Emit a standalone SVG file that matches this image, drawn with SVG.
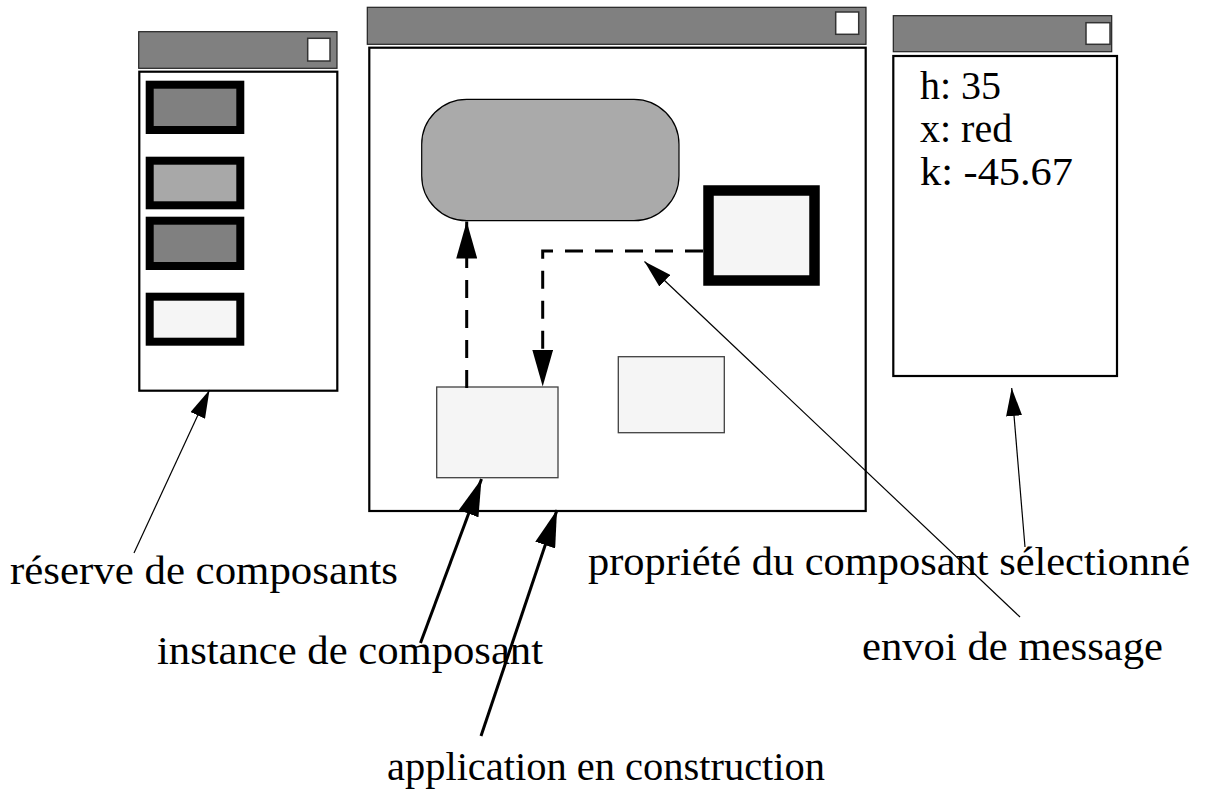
<svg xmlns="http://www.w3.org/2000/svg" width="1205" height="796" viewBox="0 0 1205 796">
<style>
.title{fill:#808080;stroke:#222;stroke-width:1.2}
.btn{fill:#fff;stroke:#333;stroke-width:1.5}
.body{fill:#fff;stroke:#000;stroke-width:2.2}
.pal{stroke:#000;stroke-width:8}
.comp{fill:#f5f5f5;stroke:#404040;stroke-width:1.3}
.lbl{font-family:"Liberation Serif","Times New Roman",serif;font-size:40px;fill:#000}
.thin{fill:none;stroke:#000;stroke-width:1.2}
.thick{fill:none;stroke:#000;stroke-width:3}
.dash{fill:none;stroke:#000;stroke-width:3;stroke-dasharray:18 12}
</style>
<defs>
<marker id="ahThin" viewBox="0 0 28 16" refX="28" refY="8" markerWidth="28" markerHeight="16" markerUnits="userSpaceOnUse" orient="auto"><path d="M0,0 L28,8 L0,16 z" fill="#000"/></marker>
<marker id="ahThick" viewBox="0 0 37 21" refX="37" refY="10.5" markerWidth="37" markerHeight="21" markerUnits="userSpaceOnUse" orient="auto"><path d="M0,0 L37,10.5 L0,21 z" fill="#000"/></marker>
</defs>
<rect width="1205" height="796" fill="#fff"/>

<g id="palette-window">
<rect class="title" x="138.7" y="31.7" width="198.3" height="36.6"/>
<rect class="btn" x="307.7" y="38.3" width="22.3" height="22.7"/>
<rect class="body" x="139.3" y="71.7" width="198" height="319"/>
<rect class="pal" x="149.7" y="84.7" width="90.6" height="45.3" fill="#808080"/>
<rect class="pal" x="149.7" y="160.7" width="90.6" height="44.6" fill="#a8a8a8"/>
<rect class="pal" x="149.7" y="220.7" width="90.6" height="45.3" fill="#808080"/>
<rect class="pal" x="149.7" y="296.7" width="90.6" height="45" fill="#f5f5f5"/>
</g>

<g id="app-window">
<rect class="title" x="367.3" y="7.3" width="498.7" height="37"/>
<rect class="btn" x="835.7" y="12" width="23" height="22.3"/>
<rect class="body" x="369.3" y="47.7" width="496.4" height="463.3"/>
</g>

<g id="rounded-component">
<rect x="421.7" y="99.3" width="257.3" height="121.4" rx="45" ry="45" fill="#aaaaaa" stroke="#000" stroke-width="1.2"/>
</g>
<g id="selected-component">
<rect x="708.5" y="190.5" width="106" height="90" fill="#f5f5f5" stroke="#000" stroke-width="10.5"/>
</g>
<g id="instance-component">
<rect class="comp" x="436.7" y="387" width="121.3" height="90.7"/>
</g>
<g id="other-component">
<rect class="comp" x="618.3" y="356.7" width="106" height="76"/>
</g>

<g id="props-window">
<rect class="title" x="893.3" y="15.7" width="218.4" height="36"/>
<rect class="btn" x="1086" y="22.7" width="24" height="21.6"/>
<rect class="body" x="893.3" y="56" width="223.7" height="320"/>
<text class="lbl" x="920" y="99">h: 35</text>
<text class="lbl" x="920" y="142">x: red</text>
<text class="lbl" x="920" y="185" textLength="153" lengthAdjust="spacingAndGlyphs">k: -45.67</text>
</g>

<g id="connectors">
<path class="dash" d="M466.7,388 L466.7,221.5" marker-end="url(#ahThick)"/>
<path class="dash" d="M703,251 L542.7,251 L542.7,386.5" marker-end="url(#ahThick)"/>
<path class="thin" d="M134,553 L209.5,390" marker-end="url(#ahThin)"/>
<path class="thin" d="M1020,617 L644.5,261.5" marker-end="url(#ahThin)"/>
<path class="thin" d="M1025,547 L1011.7,388" marker-end="url(#ahThin)"/>
<path class="thick" d="M420.5,643 L481.5,479" marker-end="url(#ahThick)"/>
<path class="thick" d="M481,736 L557,510" marker-end="url(#ahThick)"/>
</g>

<g id="labels">
<text class="lbl" x="10" y="584" textLength="388" lengthAdjust="spacingAndGlyphs">réserve de composants</text>
<text class="lbl" x="588" y="575" textLength="602" lengthAdjust="spacingAndGlyphs">propriété du composant sélectionné</text>
<text class="lbl" x="157" y="664" textLength="386" lengthAdjust="spacingAndGlyphs">instance de composant</text>
<text class="lbl" x="862" y="660" textLength="301" lengthAdjust="spacingAndGlyphs">envoi de message</text>
<text class="lbl" x="387" y="780" textLength="438" lengthAdjust="spacingAndGlyphs">application en construction</text>
</g>
</svg>
